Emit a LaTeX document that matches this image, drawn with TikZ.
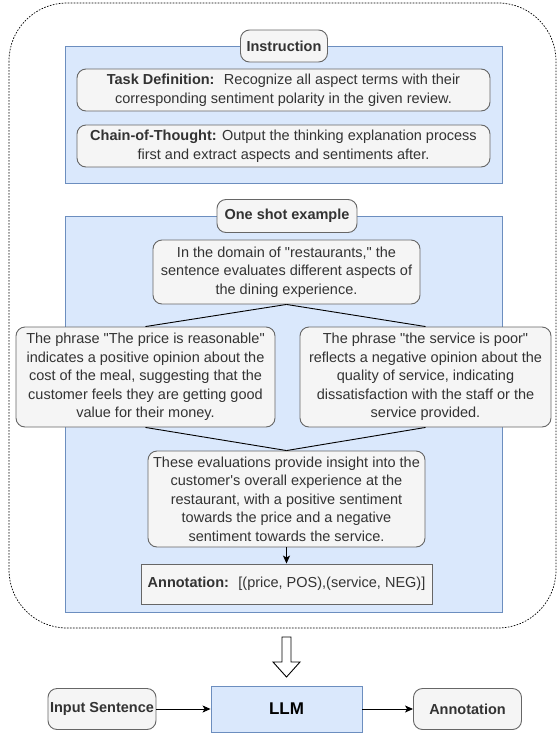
\documentclass[tikz,border=0pt]{standalone}
\usepackage{fontspec}
\setmainfont{Liberation Sans}
\usetikzlibrary{arrows.meta}
\definecolor{panelfill}{HTML}{DAE8FC}
\definecolor{paneldraw}{HTML}{6C8EBF}
\definecolor{boxfill}{HTML}{F5F5F5}
\definecolor{boxdraw}{HTML}{666666}
\definecolor{boxtext}{HTML}{333333}
\newcommand{\dq}{\textquotedbl}
\tikzset{
  panel/.style={draw=paneldraw,fill=panelfill,line width=0.9pt},
  textbox/.style={shape=rectangle,rounded corners=9pt,draw=boxdraw,fill=boxfill,line width=0.9pt,
    text=boxtext,align=center,inner sep=0pt,font=\fontsize{14.5}{18.5}\selectfont},
  tag/.style={textbox,font=\fontsize{14.5}{18.5}\selectfont\bfseries},
  link/.style={line width=0.9pt},
  arr/.style={line width=0.9pt,-{Stealth[length=8pt,width=7pt,inset=2pt]}}
}
\begin{document}
\begin{tikzpicture}[x=1pt,y=-1pt]
\useasboundingbox (0,0) rectangle (557,734);
\draw[line width=0.7pt,dash pattern=on 1.6pt off 1.4pt,rounded corners=58pt] (9,3) rectangle (556,628);
\draw[panel] (65,46) rectangle (502,183);
\draw[panel] (65,216) rectangle (502,612);
\node[tag,minimum width=87pt,minimum height=32pt] (instr) at (284,46) {Instruction};
\node[textbox,minimum width=413pt,minimum height=42pt] (task) at (283.5,90) {\textbf{Task Definition:}~ Recognize all aspect terms with their\\corresponding sentiment polarity in the given review.};
\node[textbox,minimum width=413pt,minimum height=42pt] (cot) at (283.5,146) {\textbf{Chain-of-Thought:} Output the thinking explanation process\\first and extract aspects and sentiments after.};
\node[tag,minimum width=140pt,minimum height=33pt] (shot) at (287,216) {One shot example};
\node[textbox,minimum width=267pt,minimum height=64pt] (domain) at (286.5,272) {In the domain of \dq restaurants,\dq{} the\\sentence evaluates different aspects of\\the dining experience.};
\node[textbox,minimum width=259pt,minimum height=100pt] (price) at (145.5,377) {The phrase \dq The price is reasonable\dq\\indicates a positive opinion about the\\cost of the meal, suggesting that the\\customer feels they are getting good\\value for their money.};
\node[textbox,minimum width=251pt,minimum height=100pt] (service) at (425.5,377) {The phrase \dq the service is poor\dq\\reflects a negative opinion about the\\quality of service, indicating\\dissatisfaction with the staff or the\\service provided.};
\node[textbox,minimum width=277pt,minimum height=96pt] (overall) at (286.5,499) {These evaluations provide insight into the\\customer\textquotesingle s overall experience at the\\restaurant, with a positive sentiment\\towards the price and a negative\\sentiment towards the service.};
\node[textbox,rounded corners=0pt,minimum width=291pt,minimum height=40pt] (annot) at (286.5,584) {\textbf{Annotation:}~ [(price, POS),(service, NEG)]};
\node[tag,minimum width=108pt,minimum height=41pt] (input) at (102,709) {Input Sentence};
\node[shape=rectangle,panel,minimum width=151pt,minimum height=46pt,font=\fontsize{17}{20}\selectfont\bfseries] (llm) at (286.5,709) {LLM};
\node[tag,minimum width=108pt,minimum height=41pt] (output) at (467.5,709) {Annotation};
\draw[link] (domain.south) -- (price.north);
\draw[link] (domain.south) -- (service.north);
\draw[link] (price.south) -- (overall.north);
\draw[link] (service.south) -- (overall.north);
\draw[arr] (overall.south) -- (annot.north);
\draw[arr] (input) -- (llm);
\draw[arr] (llm) -- (output);
% hollow arrow into the model
\draw[line width=0.9pt,fill=white] (282,637) -- (291,637) -- (291,662) -- (300,662) -- (286.5,677) -- (273,662) -- (282,662) -- cycle;
\end{tikzpicture}
\end{document}
